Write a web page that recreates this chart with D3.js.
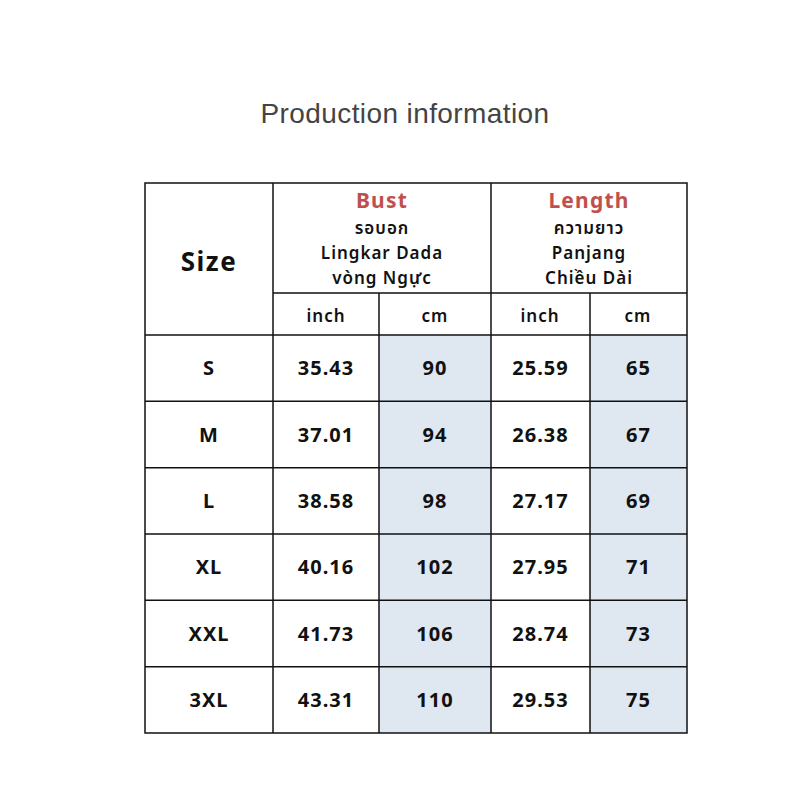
<!DOCTYPE html><html><head><meta charset="utf-8"><script src="https://cdn.jsdelivr.net/npm/d3@7"></script>
<style>body{margin:0;background:#fff}</style></head><body><svg id="c" width="800" height="800"></svg>
<script>
const sizes=["S","M","L","XL","XXL","3XL"];
const bustInch=["35.43","37.01","38.58","40.16","41.73","43.31"];
const bustCm=["90","94","98","102","106","110"];
const lenInch=["25.59","26.38","27.17","27.95","28.74","29.53"];
const lenCm=["65","67","69","71","73","75"];
const svg=d3.select("#c");
const F="'Noto Sans','Noto Sans Thai','DejaVu Sans',sans-serif";
svg.append("text").attr("x",405).attr("y",123).attr("text-anchor","middle").attr("font-family","Liberation Sans,Arial,sans-serif").attr("font-size",28).attr("letter-spacing",0.4).attr("fill","#444").text("Production information");
const xs=[145,273,379,491,590,687];
const y0=335;
const y=d3.scaleBand().domain(sizes).range([y0,733]);
const cols=[sizes,bustInch,bustCm,lenInch,lenCm];
[2,4].forEach(c=>svg.append("rect").attr("x",xs[c]).attr("y",y0).attr("width",xs[c+1]-xs[c]).attr("height",733-y0).attr("fill","#dfe7f1"));
cols.forEach((col,ci)=>col.forEach((v,i)=>svg.append("text").attr("x",(xs[ci]+xs[ci+1])/2).attr("y",y(sizes[i])+y.bandwidth()/2+7).attr("text-anchor","middle").attr("font-family",F).attr("font-weight","bold").attr("font-size",20).attr("letter-spacing",1).attr("fill","#111").text(v)));
const g=svg.append("g").attr("stroke","#111").attr("stroke-width",1.5);
const line=(a,b,c,d)=>g.append("line").attr("x1",a).attr("y1",b).attr("x2",c).attr("y2",d);
g.append("rect").attr("x",145).attr("y",183).attr("width",542).attr("height",550).attr("fill","none");
line(273,183,273,733);line(491,183,491,733);line(379,293,379,733);line(590,293,590,733);
line(273,293,687,293);
sizes.forEach(s=>line(145,y(s),687,y(s)));
svg.append("text").attr("x",209).attr("y",271).attr("text-anchor","middle").attr("font-family",F).attr("font-weight","bold").attr("font-size",26).attr("letter-spacing",1.5).attr("fill","#111").text("Size");
const hdr=(cx,t,l)=>{svg.append("text").attr("x",cx).attr("y",208).attr("text-anchor","middle").attr("font-family",F).attr("font-weight","bold").attr("font-size",21).attr("letter-spacing",1.2).attr("fill","#c0504d").text(t);
l.forEach((s,i)=>svg.append("text").attr("x",cx).attr("y",234+i*25).attr("text-anchor","middle").attr("font-family",F).attr("font-weight","600").attr("font-size",17).attr("letter-spacing",1).attr("fill","#111").text(s));};
hdr(382,"Bust",["รอบอก","Lingkar Dada","vòng Ngực"]);
hdr(589,"Length",["ความยาว","Panjang","Chiều Dài"]);
[["inch",326],["cm",435],["inch",540],["cm",638]].forEach(([t,x])=>svg.append("text").attr("x",x).attr("y",322).attr("text-anchor","middle").attr("font-family",F).attr("font-weight","600").attr("font-size",17).attr("letter-spacing",1).attr("fill","#111").text(t));
</script></body></html>
